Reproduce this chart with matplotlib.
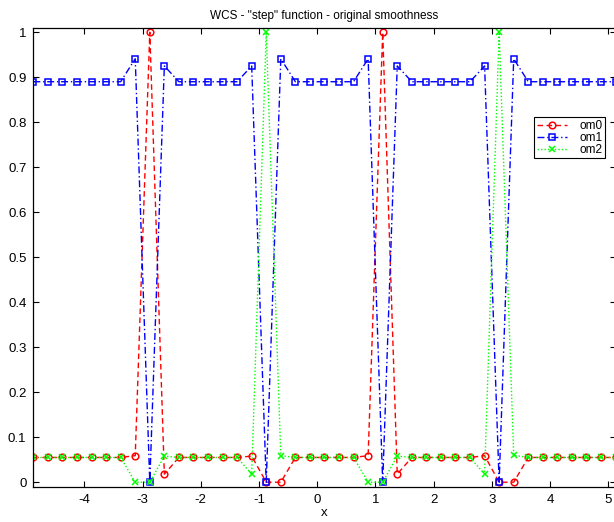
import matplotlib
matplotlib.use("Agg")
import matplotlib.pyplot as plt

x = [-4.875, -4.625, -4.375, -4.125, -3.875, -3.625, -3.375, -3.125, -2.875, -2.625,
     -2.375, -2.125, -1.875, -1.625, -1.375, -1.125, -0.875, -0.625, -0.375, -0.125,
     0.125, 0.375, 0.625, 0.875, 1.125, 1.375, 1.625, 1.875, 2.125, 2.375,
     2.625, 2.875, 3.125, 3.375, 3.625, 3.875, 4.125, 4.375, 4.625, 4.875, 5.125]

om0 = [0.055, 0.055, 0.055, 0.055, 0.055, 0.055, 0.055, 0.059, 1.0, 0.018,
       0.055, 0.055, 0.055, 0.055, 0.055, 0.058, 0.0, 0.0, 0.055, 0.055,
       0.055, 0.055, 0.055, 0.059, 1.0, 0.018, 0.055, 0.055, 0.055, 0.055,
       0.055, 0.059, 0.0, 0.0, 0.055, 0.055, 0.055, 0.055, 0.055, 0.055, 0.055]

om1 = [0.89, 0.89, 0.89, 0.89, 0.89, 0.89, 0.89, 0.941, 0.0, 0.925,
       0.89, 0.89, 0.89, 0.89, 0.89, 0.925, 0.0, 0.941, 0.89, 0.89,
       0.89, 0.89, 0.89, 0.941, 0.0, 0.925, 0.89, 0.89, 0.89, 0.89,
       0.89, 0.925, 0.0, 0.941, 0.89, 0.89, 0.89, 0.89, 0.89, 0.89, 0.89]

om2 = [0.055, 0.055, 0.055, 0.055, 0.055, 0.055, 0.055, 0.0, 0.0, 0.058,
       0.055, 0.055, 0.055, 0.055, 0.055, 0.018, 1.0, 0.059, 0.055, 0.055,
       0.055, 0.055, 0.055, 0.0, 0.0, 0.058, 0.055, 0.055, 0.055, 0.055,
       0.055, 0.018, 1.0, 0.06, 0.055, 0.055, 0.055, 0.055, 0.055, 0.055, 0.055]

labels = ["om0", "om1", "om2"]
xticks = [-4, -3, -2, -1, 0, 1, 2, 3, 4, 5]
yticks = [0, 0.1, 0.2, 0.3, 0.4, 0.5, 0.6, 0.7, 0.8, 0.9, 1]
yticklabels = ["0", "0.1", "0.2", "0.3", "0.4", "0.5", "0.6", "0.7", "0.8", "0.9", "1"]

plt.rcParams['font.family'] = ['Liberation Sans', 'DejaVu Sans']

fig = plt.figure(figsize=(6.14, 5.22), dpi=100)
ax = fig.add_axes([0.0543, 0.0676, 0.9483, 0.8793])

lw = 1.0
ms = 4.8
ax.plot(x, om0, color=(1, 0, 0), linestyle=(0, (4, 2.5)), marker='o', markersize=ms,
        markerfacecolor='none', markeredgewidth=1.1, linewidth=lw, label=labels[0])
ax.plot(x, om1, color=(0, 0, 1), linestyle=(0, (5, 2, 1, 2)), marker='s', markersize=ms,
        markerfacecolor='none', markeredgewidth=1.1, linewidth=lw, label=labels[1])
ax.plot(x, om2, color=(0, 1, 0), linestyle=(0, (1, 1.5)), marker='x', markersize=ms,
        markeredgewidth=1.1, linewidth=lw, label=labels[2])

ax.set_xlim(-4.875, 5.125)
ax.set_ylim(-0.01, 1.01)
ax.set_xticks(xticks)
ax.set_xticklabels([str(t) for t in xticks])
ax.set_yticks(yticks)
ax.set_yticklabels(yticklabels)
ax.tick_params(direction='in', top=True, right=True, length=4, width=0.8,
               labelsize=9.5, pad=5)
for s in ax.spines.values():
    s.set_linewidth(0.9)

ax.set_title('WCS - "step" function - original smoothness', fontsize=8.5, pad=6)
ax.set_xlabel('x', fontsize=9.5, labelpad=1)

leg = ax.legend(loc='upper right', bbox_to_anchor=(0.985, 0.775),
                bbox_transform=fig.transFigure, fontsize=8.5, fancybox=False,
                framealpha=1, edgecolor='black', borderpad=0.2, labelspacing=0.0,
                handlelength=2.6, handletextpad=1.0, borderaxespad=0)
leg.get_frame().set_linewidth(0.8)

fig.savefig('out.png', dpi=100)
